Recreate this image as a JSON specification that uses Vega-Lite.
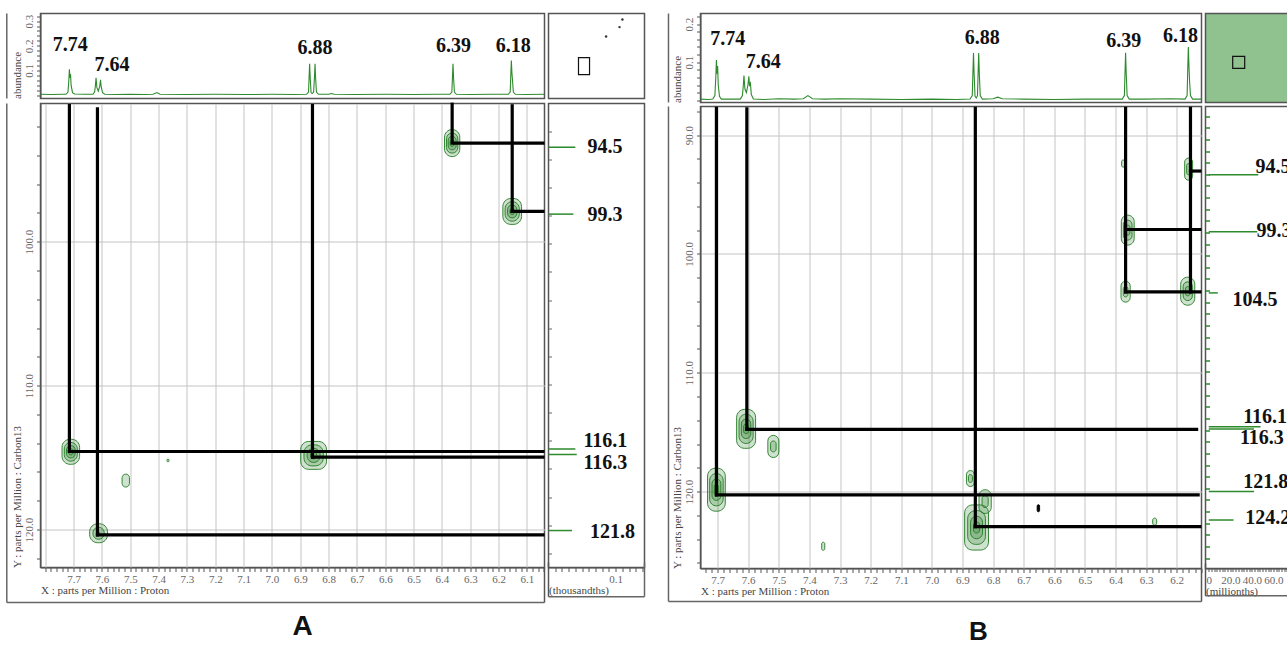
{
  "$schema": "https://vega.github.io/schema/vega-lite/v6.json",
  "background": "white",
  "autosize": {"type": "pad"},
  "padding": {"left": 4.5, "top": 11.5, "right": 0, "bottom": 0},
  "config": {
    "view": {"stroke": "#555555", "strokeWidth": 1.5},
    "axis": {"labelFont": "Liberation Serif", "labelFontSize": 11, "labelColor": "#666666", "titleFont": "Liberation Serif", "titleFontSize": 11, "titleFontWeight": "normal", "titleColor": "#444444", "tickColor": "#555555", "domainColor": "#555555", "gridColor": "#c4c4c4", "gridWidth": 1, "labelOverlap": false, "labelFlush": false, "tickCount": 1000}
  },
  "datasets": {
    "specA": [
      {"h":7.817,"a":0.003},{"h":7.78,"a":0.002},{"h":7.74,"a":0.003},
      {"h":7.727,"a":0.003},{"h":7.72,"a":0.012},{"h":7.717,"a":0.06},{"h":7.715,"a":0.105},{"h":7.713,"a":0.07},{"h":7.711,"a":0.085},{"h":7.709,"a":0.04},{"h":7.704,"a":0.01},{"h":7.697,"a":0.004},
      {"h":7.66,"a":0.003},
      {"h":7.632,"a":0.003},{"h":7.626,"a":0.012},{"h":7.623,"a":0.04},{"h":7.621,"a":0.07},{"h":7.618,"a":0.03},{"h":7.613,"a":0.016},{"h":7.608,"a":0.035},{"h":7.605,"a":0.062},{"h":7.603,"a":0.035},{"h":7.598,"a":0.01},{"h":7.59,"a":0.003},
      {"h":7.55,"a":0.002},{"h":7.5,"a":0.003},{"h":7.45,"a":0.002},
      {"h":7.42,"a":0.003},{"h":7.406,"a":0.01},{"h":7.395,"a":0.003},
      {"h":7.3,"a":0.002},{"h":7.2,"a":0.003},{"h":7.1,"a":0.002},{"h":7.0,"a":0.003},{"h":6.92,"a":0.002},
      {"h":6.878,"a":0.003},{"h":6.871,"a":0.012},{"h":6.869,"a":0.07},{"h":6.867,"a":0.127},{"h":6.865,"a":0.07},{"h":6.862,"a":0.01},{"h":6.858,"a":0.006},{"h":6.853,"a":0.012},{"h":6.85,"a":0.07},{"h":6.848,"a":0.127},{"h":6.846,"a":0.07},{"h":6.843,"a":0.012},{"h":6.836,"a":0.003},
      {"h":6.8,"a":0.003},{"h":6.79,"a":0.006},{"h":6.78,"a":0.003},
      {"h":6.7,"a":0.002},{"h":6.6,"a":0.003},{"h":6.5,"a":0.002},{"h":6.42,"a":0.003},
      {"h":6.372,"a":0.003},{"h":6.365,"a":0.012},{"h":6.363,"a":0.07},{"h":6.361,"a":0.127},{"h":6.359,"a":0.07},{"h":6.356,"a":0.012},{"h":6.349,"a":0.003},
      {"h":6.3,"a":0.002},{"h":6.22,"a":0.003},
      {"h":6.166,"a":0.003},{"h":6.159,"a":0.012},{"h":6.157,"a":0.08},{"h":6.155,"a":0.14},{"h":6.153,"a":0.09},{"h":6.151,"a":0.06},{"h":6.148,"a":0.012},{"h":6.141,"a":0.003},
      {"h":6.1,"a":0.002},{"h":6.038,"a":0.003}
    ],
    "peakA": [
      {"h":7.712,"a":0.205,"label":"7.74"},{"h":7.565,"a":0.124,"label":"7.64"},{"h":6.848,"a":0.192,"label":"6.88"},{"h":6.359,"a":0.198,"label":"6.39"},{"h":6.148,"a":0.198,"label":"6.18"}
    ],
    "specB": [
      {"h":7.756,"a":0.003},{"h":7.73,"a":0.002},
      {"h":7.716,"a":0.003},{"h":7.709,"a":0.012},{"h":7.706,"a":0.06},{"h":7.704,"a":0.106},{"h":7.702,"a":0.07},{"h":7.7,"a":0.09},{"h":7.698,"a":0.04},{"h":7.694,"a":0.01},{"h":7.688,"a":0.003},
      {"h":7.65,"a":0.003},
      {"h":7.626,"a":0.003},{"h":7.619,"a":0.012},{"h":7.616,"a":0.04},{"h":7.614,"a":0.065},{"h":7.611,"a":0.03},{"h":7.606,"a":0.02},{"h":7.601,"a":0.04},{"h":7.598,"a":0.063},{"h":7.596,"a":0.04},{"h":7.593,"a":0.045},{"h":7.59,"a":0.015},{"h":7.583,"a":0.003},
      {"h":7.55,"a":0.002},{"h":7.5,"a":0.004},{"h":7.45,"a":0.003},
      {"h":7.42,"a":0.004},{"h":7.405,"a":0.012},{"h":7.39,"a":0.004},
      {"h":7.35,"a":0.003},{"h":7.3,"a":0.004},{"h":7.2,"a":0.003},{"h":7.1,"a":0.002},{"h":7.0,"a":0.003},{"h":6.92,"a":0.002},
      {"h":6.875,"a":0.003},{"h":6.868,"a":0.012},{"h":6.866,"a":0.07},{"h":6.864,"a":0.124},{"h":6.862,"a":0.07},{"h":6.859,"a":0.01},{"h":6.855,"a":0.006},{"h":6.851,"a":0.012},{"h":6.849,"a":0.07},{"h":6.847,"a":0.124},{"h":6.845,"a":0.07},{"h":6.842,"a":0.012},{"h":6.835,"a":0.003},
      {"h":6.8,"a":0.004},{"h":6.785,"a":0.008},{"h":6.77,"a":0.004},
      {"h":6.7,"a":0.003},{"h":6.6,"a":0.002},{"h":6.5,"a":0.003},{"h":6.42,"a":0.003},
      {"h":6.378,"a":0.003},{"h":6.371,"a":0.012},{"h":6.369,"a":0.07},{"h":6.367,"a":0.125},{"h":6.365,"a":0.07},{"h":6.362,"a":0.012},{"h":6.355,"a":0.003},
      {"h":6.3,"a":0.003},{"h":6.22,"a":0.004},
      {"h":6.173,"a":0.003},{"h":6.166,"a":0.012},{"h":6.164,"a":0.08},{"h":6.162,"a":0.14},{"h":6.16,"a":0.09},{"h":6.158,"a":0.05},{"h":6.155,"a":0.012},{"h":6.148,"a":0.003},
      {"h":6.119,"a":0.003}
    ],
    "peakB": [
      {"h":7.667,"a":0.162,"label":"7.74"},{"h":7.551,"a":0.1,"label":"7.64"},{"h":6.835,"a":0.164,"label":"6.88"},{"h":6.373,"a":0.155,"label":"6.39"},{"h":6.188,"a":0.17,"label":"6.18"}
    ],
    "contA": [
      {"h1":6.337,"h2":6.391,"c1":92.21,"c2":94.09,"kind":"contour"},
      {"h1":6.344,"h2":6.384,"c1":92.45,"c2":93.85,"kind":"contour"},
      {"h1":6.35,"h2":6.378,"c1":92.68,"c2":93.62,"kind":"contour"},
      {"h1":6.357,"h2":6.371,"c1":92.92,"c2":93.38,"kind":"contour"},
      {"h1":6.119,"h2":6.185,"c1":97.0,"c2":98.8,"kind":"contour"},
      {"h1":6.127,"h2":6.177,"c1":97.22,"c2":98.58,"kind":"contour"},
      {"h1":6.1355,"h2":6.1685,"c1":97.45,"c2":98.35,"kind":"contour"},
      {"h1":6.144,"h2":6.16,"c1":97.68,"c2":98.12,"kind":"contour"},
      {"h1":7.679,"h2":7.741,"c1":113.73,"c2":115.47,"kind":"contour"},
      {"h1":7.687,"h2":7.733,"c1":113.95,"c2":115.25,"kind":"contour"},
      {"h1":7.6945,"h2":7.7255,"c1":114.17,"c2":115.03,"kind":"contour"},
      {"h1":7.702,"h2":7.718,"c1":114.38,"c2":114.82,"kind":"contour"},
      {"h1":6.8075,"h2":6.8985,"c1":113.88,"c2":115.82,"kind":"contour"},
      {"h1":6.819,"h2":6.887,"c1":114.12,"c2":115.58,"kind":"contour"},
      {"h1":6.83,"h2":6.876,"c1":114.36,"c2":115.34,"kind":"contour"},
      {"h1":6.842,"h2":6.864,"c1":114.61,"c2":115.09,"kind":"contour"},
      {"h1":7.5805,"h2":7.6435,"c1":119.6,"c2":120.92,"kind":"contour"},
      {"h1":7.592,"h2":7.632,"c1":119.84,"c2":120.68,"kind":"contour"},
      {"h1":7.607,"h2":7.617,"c1":120.16,"c2":120.36,"kind":"contour"},
      {"h1":7.503,"h2":7.529,"c1":116.15,"c2":117.05,"kind":"contour"},
      {"h1":7.3635,"h2":7.3705,"c1":115.1,"c2":115.3,"kind":"contour"}
    ],
    "contB": [
      {"h1":7.576,"h2":7.638,"c1":113.08,"c2":116.36,"kind":"contour"},
      {"h1":7.584,"h2":7.63,"c1":113.49,"c2":115.95,"kind":"contour"},
      {"h1":7.5915,"h2":7.6225,"c1":113.9,"c2":115.54,"kind":"contour"},
      {"h1":7.599,"h2":7.615,"c1":114.31,"c2":115.13,"kind":"contour"},
      {"h1":7.5,"h2":7.536,"c1":115.27,"c2":117.13,"kind":"contour"},
      {"h1":7.509,"h2":7.527,"c1":115.74,"c2":116.66,"kind":"contour"},
      {"h1":7.675,"h2":7.733,"c1":118.03,"c2":121.65,"kind":"contour"},
      {"h1":7.682,"h2":7.726,"c1":118.48,"c2":121.2,"kind":"contour"},
      {"h1":7.6895,"h2":7.7185,"c1":118.94,"c2":120.74,"kind":"contour"},
      {"h1":7.697,"h2":7.711,"c1":119.39,"c2":120.29,"kind":"contour"},
      {"h1":6.815,"h2":6.893,"c1":121.12,"c2":124.92,"kind":"contour"},
      {"h1":6.825,"h2":6.883,"c1":121.6,"c2":124.44,"kind":"contour"},
      {"h1":6.8345,"h2":6.8735,"c1":122.07,"c2":123.97,"kind":"contour"},
      {"h1":6.844,"h2":6.864,"c1":122.55,"c2":123.49,"kind":"contour"},
      {"h1":6.861,"h2":6.887,"c1":118.23,"c2":119.57,"kind":"contour"},
      {"h1":6.8675,"h2":6.8805,"c1":118.57,"c2":119.23,"kind":"contour"},
      {"h1":6.806,"h2":6.846,"c1":119.84,"c2":121.84,"kind":"contour"},
      {"h1":6.816,"h2":6.836,"c1":120.34,"c2":121.34,"kind":"contour"},
      {"h1":7.35,"h2":7.36,"c1":124.26,"c2":124.94,"kind":"contour"},
      {"h1":6.2655,"h2":6.2785,"c1":122.23,"c2":122.83,"kind":"contour"},
      {"h1":6.148,"h2":6.174,"c1":91.94,"c2":93.8,"kind":"contour"},
      {"h1":6.1545,"h2":6.1675,"c1":92.4,"c2":93.34,"kind":"contour"},
      {"h1":6.339,"h2":6.381,"c1":96.74,"c2":99.26,"kind":"contour"},
      {"h1":6.346,"h2":6.374,"c1":97.16,"c2":98.84,"kind":"contour"},
      {"h1":6.353,"h2":6.367,"c1":97.58,"c2":98.42,"kind":"contour"},
      {"h1":6.352,"h2":6.382,"c1":102.3,"c2":104.06,"kind":"contour"},
      {"h1":6.3595,"h2":6.3745,"c1":102.74,"c2":103.62,"kind":"contour"},
      {"h1":6.141,"h2":6.187,"c1":101.96,"c2":104.32,"kind":"contour"},
      {"h1":6.149,"h2":6.179,"c1":102.35,"c2":103.93,"kind":"contour"},
      {"h1":6.1565,"h2":6.1715,"c1":102.75,"c2":103.53,"kind":"contour"},
      {"h1":6.37,"h2":6.38,"c1":92.1,"c2":92.7,"kind":"contour"},
      {"h1":6.648,"h2":6.656,"c1":121.1,"c2":121.7,"kind":"artifact"}
    ],
    "linesA": [
      {"h1":7.715,"h2":7.715,"c1":90.55,"c2":114.58},
      {"h1":7.616,"h2":7.616,"c1":90.77,"c2":120.37},
      {"h1":6.857,"h2":6.857,"c1":90.55,"c2":114.97},
      {"h1":6.364,"h2":6.364,"c1":90.45,"c2":93.15},
      {"h1":6.152,"h2":6.152,"c1":90.56,"c2":97.9},
      {"h1":6.356,"h2":6.0436,"c1":93.15,"c2":93.15},
      {"h1":6.152,"h2":6.0436,"c1":97.9,"c2":97.9},
      {"h1":7.715,"h2":6.0436,"c1":114.58,"c2":114.58},
      {"h1":6.857,"h2":6.0436,"c1":114.97,"c2":114.97},
      {"h1":7.616,"h2":6.0436,"c1":120.37,"c2":120.37}
    ],
    "linesB": [
      {"h1":7.704,"h2":7.704,"c1":87.76,"c2":120.28},
      {"h1":7.6046,"h2":7.6046,"c1":87.8,"c2":114.77},
      {"h1":6.858,"h2":6.858,"c1":87.76,"c2":122.95},
      {"h1":6.367,"h2":6.367,"c1":87.76,"c2":103.2},
      {"h1":6.155,"h2":6.155,"c1":87.76,"c2":103.2},
      {"h1":6.155,"h2":6.1245,"c1":93.03,"c2":93.03},
      {"h1":6.362,"h2":6.1245,"c1":97.95,"c2":97.95},
      {"h1":6.367,"h2":6.1245,"c1":103.2,"c2":103.2},
      {"h1":7.6046,"h2":6.135,"c1":114.77,"c2":114.77},
      {"h1":7.704,"h2":6.13,"c1":120.28,"c2":120.28},
      {"h1":6.858,"h2":6.1245,"c1":122.95,"c2":122.95}
    ],
    "sideA": [
      {"label":"94.5","c":93.15,"len":0.04,"lc":93.15,"lx":0.058},
      {"label":"99.3","c":97.9,"len":0.037,"lc":97.96,"lx":0.058},
      {"label":"116.1","c":114.58,"len":0.04,"lc":114.0,"lx":0.052},
      {"label":"116.3","c":114.97,"len":0.042,"lc":115.6,"lx":0.052},
      {"label":"121.8","c":120.37,"len":0.035,"lc":120.44,"lx":0.062}
    ],
    "sideB": [
      {"label":"94.5","c":93.03,"len":46,"lc":92.4,"lx":43.4},
      {"label":"99.3","c":97.95,"len":45,"lc":97.9,"lx":44.3},
      {"label":"104.5","c":103.2,"len":8.4,"lc":103.8,"lx":22},
      {"label":"116.1","c":114.7,"len":48,"lc":113.9,"lx":32},
      {"label":"116.3","c":114.9,"len":42,"lc":115.7,"lx":28.9},
      {"label":"121.8","c":120.28,"len":42,"lc":119.5,"lx":32},
      {"label":"124.2","c":122.73,"len":23,"lc":122.6,"lx":33.9}
    ],
    "cornerA": [
      {"x":0.77,"y":0.93,"kind":"dot"},{"x":0.74,"y":0.84,"kind":"dot"},{"x":0.6,"y":0.73,"kind":"dot"},{"x":0.37,"y":0.38,"kind":"box"}
    ],
    "cornerB": [
      {"x":0.4,"y":0.45,"kind":"box"}
    ]
  },
  "spacing": 20,
  "hconcat": [
    {
      "title": {"text": "A", "orient": "bottom", "anchor": "middle", "offset": 9.5, "dx": -23, "font": "Liberation Sans", "fontSize": 28, "fontWeight": "bold", "color": "#111111"},
      "spacing": 0,
      "vconcat": [
        {
          "spacing": 0,
          "hconcat": [
            {
              "width": 504, "height": 85,
              "layer": [
                {
                  "data": {"name": "specA"},
                  "mark": {"type": "line", "color": "#2d8a2d", "strokeWidth": 1.1},
                  "encoding": {
                    "x": {"field": "h", "type": "quantitative", "scale": {"domain": [6.038, 7.817], "reverse": true, "nice": false, "zero": false}, "axis": null},
                    "y": {"field": "a", "type": "quantitative", "scale": {"domain": [-0.014, 0.331], "nice": false, "zero": false},
                      "axis": {"values": [0,0.02,0.04,0.06,0.08,0.1,0.12,0.14,0.16,0.18,0.2,0.22,0.24,0.26,0.28,0.3,0.32],
                        "labelExpr": "abs(datum.value*10 - round(datum.value*10)) < 0.01 && datum.value > 0.05 ? format(datum.value, '.1f') : ''",
                        "labelAngle": -90, "labelPadding": 2, "grid": false, "tickSize": 4, "minExtent": 17, "maxExtent": 17,
                        "title": "abundance", "titleAnchor": "start", "titleAlign": "left", "titlePadding": 1.5}}
                  }
                },
                {
                  "data": {"name": "peakA"},
                  "mark": {"type": "text", "font": "Liberation Serif", "fontSize": 20, "fontWeight": "bold", "color": "#111111", "align": "center", "baseline": "middle"},
                  "encoding": {
                    "x": {"field": "h", "type": "quantitative", "scale": {"domain": [6.038, 7.817], "reverse": true, "nice": false, "zero": false}},
                    "y": {"field": "a", "type": "quantitative", "scale": {"domain": [-0.014, 0.331], "nice": false, "zero": false}},
                    "text": {"field": "label", "type": "nominal"}
                  }
                },
                {
                  "data": {"values": [{}]},
                  "mark": {"type": "rule", "color": "#666666", "strokeWidth": 1.5},
                  "encoding": {
                    "x": {"datum": 7.936, "type": "quantitative"},
                    "y": {"datum": -0.014, "type": "quantitative"},
                    "y2": {"datum": 0.331}
                  }
                }
              ]
            },
            {
              "width": 96, "height": 85,
              "data": {"name": "cornerA"},
              "layer": [
                {
                  "transform": [{"filter": "datum.kind == 'dot'"}],
                  "mark": {"type": "point", "filled": true, "color": "#333333", "size": 6, "opacity": 1},
                  "encoding": {
                    "x": {"field": "x", "type": "quantitative", "scale": {"domain": [0, 1]}, "axis": null},
                    "y": {"field": "y", "type": "quantitative", "scale": {"domain": [0, 1]}, "axis": null}
                  }
                },
                {
                  "transform": [{"filter": "datum.kind == 'box'"}],
                  "mark": {"type": "point", "filled": false, "shape": "M-0.65,-1H0.65V1H-0.65Z", "color": "#111111", "size": 289, "strokeWidth": 1.2, "opacity": 1},
                  "encoding": {
                    "x": {"field": "x", "type": "quantitative", "scale": {"domain": [0, 1]}, "axis": null},
                    "y": {"field": "y", "type": "quantitative", "scale": {"domain": [0, 1]}, "axis": null}
                  }
                }
              ]
            }
          ]
        },
        {
          "spacing": 0,
          "hconcat": [
            {
              "width": 504, "height": 464,
              "layer": [
                {
                  "data": {"name": "contA"},
                  "mark": {"type": "rect", "cornerRadius": 8, "strokeWidth": 0.9},
                  "encoding": {
                    "x": {"field": "h1", "type": "quantitative", "scale": {"domain": [6.038, 7.817], "reverse": true, "nice": false, "zero": false},
                      "axis": {"values": [6.04,6.06,6.08,6.1,6.12,6.14,6.16,6.18,6.2,6.22,6.24,6.26,6.28,6.3,6.32,6.34,6.36,6.38,6.4,6.42,6.44,6.46,6.48,6.5,6.52,6.54,6.56,6.58,6.6,6.62,6.64,6.66,6.68,6.7,6.72,6.74,6.76,6.78,6.8,6.82,6.84,6.86,6.88,6.9,6.92,6.94,6.96,6.98,7,7.02,7.04,7.06,7.08,7.1,7.12,7.14,7.16,7.18,7.2,7.22,7.24,7.26,7.28,7.3,7.32,7.34,7.36,7.38,7.4,7.42,7.44,7.46,7.48,7.5,7.52,7.54,7.56,7.58,7.6,7.62,7.64,7.66,7.68,7.7,7.72,7.74,7.76,7.78,7.8],
                        "labelExpr": "abs(datum.value*10 - round(datum.value*10)) < 0.01 && datum.value < 7.75 ? format(datum.value, '.1f') : ''",
                        "grid": true,
                        "gridOpacity": {"condition": {"test": "abs(datum.value*10 - round(datum.value*10)) < 0.01", "value": 1}, "value": 0},
                        "tickSize": 4,
                        "labelPadding": 2,
                        "title": "X : parts per Million : Proton", "titleAnchor": "end", "titleAlign": "left", "titlePadding": 0}},
                    "x2": {"field": "h2"},
                    "y": {"field": "c1", "type": "quantitative", "scale": {"domain": [90.4, 122.64], "reverse": true, "nice": false, "zero": false},
                      "axis": {"values": [92,94,96,98,100,102,104,106,108,110,112,114,116,118,120,122],
                        "labelExpr": "datum.value % 10 == 0 ? format(datum.value, '.1f') : ''",
                        "labelAngle": -90, "labelPadding": 2, "grid": true, "minExtent": 17, "maxExtent": 17,
                        "gridOpacity": {"condition": {"test": "datum.value % 10 == 0", "value": 1}, "value": 0},
                        "tickSize": 4,
                        "title": "Y : parts per Million : Carbon13", "titleAnchor": "end", "titleAlign": "left", "titlePadding": 1.5}},
                    "y2": {"field": "c2"},
                    "color": {"field": "kind", "type": "nominal", "scale": {"domain": ["contour", "artifact"], "range": ["#237a23", "#000000"]}, "legend": null},
                    "stroke": {"field": "kind", "type": "nominal", "scale": {"domain": ["contour", "artifact"], "range": ["#237a23", "#000000"]}, "legend": null},
                    "fillOpacity": {"field": "kind", "type": "nominal", "scale": {"domain": ["contour", "artifact"], "range": [0.22, 1]}, "legend": null}
                  }
                },
                {
                  "data": {"name": "linesA"},
                  "mark": {"type": "rule", "color": "#000000", "strokeWidth": 3.2, "strokeCap": "square"},
                  "encoding": {
                    "x": {"field": "h1", "type": "quantitative", "scale": {"domain": [6.038, 7.817], "reverse": true, "nice": false, "zero": false}},
                    "x2": {"field": "h2"},
                    "y": {"field": "c1", "type": "quantitative", "scale": {"domain": [90.4, 122.64], "reverse": true, "nice": false, "zero": false}},
                    "y2": {"field": "c2"}
                  }
                },
                {
                  "data": {"values": [{}]},
                  "mark": {"type": "rule", "color": "#666666", "strokeWidth": 1.5},
                  "encoding": {
                    "x": {"datum": 7.936, "type": "quantitative"},
                    "y": {"datum": 90.4, "type": "quantitative"},
                    "y2": {"datum": 125.07}
                  }
                },
                {
                  "data": {"values": [{}]},
                  "mark": {"type": "rule", "color": "#666666", "strokeWidth": 1.5},
                  "encoding": {
                    "x": {"datum": 7.936, "type": "quantitative"},
                    "x2": {"datum": 6.038},
                    "y": {"datum": 125.07, "type": "quantitative"}
                  }
                },
                {
                  "data": {"values": [{}]},
                  "mark": {"type": "rule", "color": "#555555", "strokeWidth": 1.5},
                  "encoding": {
                    "x": {"datum": 6.038, "type": "quantitative"},
                    "y": {"datum": 122.64, "type": "quantitative"},
                    "y2": {"datum": 125.07}
                  }
                }
              ]
            },
            {
              "width": 96, "height": 464,
              "layer": [
                {
                  "data": {"name": "sideA"},
                  "mark": {"type": "bar", "orient": "horizontal", "color": "#2d8a2d", "size": 1.5},
                  "encoding": {
                    "x": {"field": "len", "type": "quantitative", "scale": {"domain": [0, 0.143], "nice": false, "zero": true},
                      "axis": {"values": [0.01,0.02,0.03,0.04,0.05,0.06,0.07,0.08,0.09,0.1,0.11,0.12,0.13,0.14],
                        "labelExpr": "abs(datum.value - 0.1) < 0.001 ? '0.1' : ''", "grid": false,
                        "tickSize": 4,
                        "labelPadding": 2,
                        "title": "(thousandths)", "titleAnchor": "start", "titleAlign": "left", "titlePadding": 0}},
                    "y": {"field": "c", "type": "quantitative", "scale": {"domain": [90.4, 122.64], "reverse": true, "nice": false, "zero": false},
                      "axis": {"values": [92,94,96,98,100,102,104,106,108,110,112,114,116,118,120,122], "labels": false, "domain": false, "grid": false, "tickSize": 3, "offset": -3, "minExtent": 0, "maxExtent": 0, "tickColor": "#666666", "title": null}}
                  }
                },
                {
                  "data": {"name": "sideA"},
                  "mark": {"type": "text", "font": "Liberation Serif", "fontSize": 20, "fontWeight": "bold", "color": "#111111", "align": "left", "baseline": "middle"},
                  "encoding": {
                    "x": {"field": "lx", "type": "quantitative", "scale": {"domain": [0, 0.143], "nice": false, "zero": true}},
                    "y": {"field": "lc", "type": "quantitative", "scale": {"domain": [90.4, 122.64], "reverse": true, "nice": false, "zero": false}},
                    "text": {"field": "label", "type": "nominal"}
                  }
                },
                {
                  "data": {"values": [{}]},
                  "mark": {"type": "rule", "color": "#666666", "strokeWidth": 1.5},
                  "encoding": {
                    "x": {"datum": 0, "type": "quantitative"},
                    "x2": {"datum": 0.143},
                    "y": {"datum": 125.07, "type": "quantitative"}
                  }
                },
                {
                  "data": {"values": [{}]},
                  "mark": {"type": "rule", "color": "#666666", "strokeWidth": 1.5},
                  "encoding": {
                    "x": {"datum": 0.143, "type": "quantitative"},
                    "y": {"datum": 122.64, "type": "quantitative"},
                    "y2": {"datum": 125.07}
                  }
                },
                {
                  "data": {"values": [{}]},
                  "mark": {"type": "rule", "color": "#555555", "strokeWidth": 1.5},
                  "encoding": {
                    "x": {"datum": 0, "type": "quantitative"},
                    "y": {"datum": 122.64, "type": "quantitative"},
                    "y2": {"datum": 125.07}
                  }
                }
              ]
            }
          ]
        }
      ]
    },
    {
      "title": {"text": "B", "orient": "bottom", "anchor": "middle", "offset": 15.5, "dx": 0, "font": "Liberation Sans", "fontSize": 26, "fontWeight": "bold", "color": "#111111"},
      "spacing": 0,
      "vconcat": [
        {
          "spacing": 0,
          "hconcat": [
            {
              "width": 501, "height": 89,
              "layer": [
                {
                  "data": {"name": "specB"},
                  "mark": {"type": "line", "color": "#2d8a2d", "strokeWidth": 1.1},
                  "encoding": {
                    "x": {"field": "h", "type": "quantitative", "scale": {"domain": [6.119, 7.756], "reverse": true, "nice": false, "zero": false}, "axis": null},
                    "y": {"field": "a", "type": "quantitative", "scale": {"domain": [-0.006, 0.228], "nice": false, "zero": false},
                      "axis": {"values": [0,0.02,0.04,0.06,0.08,0.1,0.12,0.14,0.16,0.18,0.2,0.22],
                        "labelExpr": "abs(datum.value*10 - round(datum.value*10)) < 0.01 && datum.value > 0.05 ? format(datum.value, '.1f') : ''",
                        "labelAngle": -90, "labelPadding": 2, "grid": false, "tickSize": 4, "minExtent": 17, "maxExtent": 17,
                        "title": "abundance", "titleAnchor": "start", "titleAlign": "left", "titlePadding": 1.5}}
                  }
                },
                {
                  "data": {"name": "peakB"},
                  "mark": {"type": "text", "font": "Liberation Serif", "fontSize": 20, "fontWeight": "bold", "color": "#111111", "align": "center", "baseline": "middle"},
                  "encoding": {
                    "x": {"field": "h", "type": "quantitative", "scale": {"domain": [6.119, 7.756], "reverse": true, "nice": false, "zero": false}},
                    "y": {"field": "a", "type": "quantitative", "scale": {"domain": [-0.006, 0.228], "nice": false, "zero": false}},
                    "text": {"field": "label", "type": "nominal"}
                  }
                },
                {
                  "data": {"values": [{}]},
                  "mark": {"type": "rule", "color": "#666666", "strokeWidth": 1.5},
                  "encoding": {
                    "x": {"datum": 7.8606, "type": "quantitative"},
                    "y": {"datum": -0.006, "type": "quantitative"},
                    "y2": {"datum": 0.228}
                  }
                }
              ]
            },
            {
              "width": 83, "height": 89,
              "view": {"fill": "#8fc28f", "stroke": "#555555", "strokeWidth": 1.5},
              "data": {"name": "cornerB"},
              "mark": {"type": "point", "filled": false, "shape": "square", "color": "#111111", "size": 144, "strokeWidth": 1.2, "opacity": 1},
              "encoding": {
                "x": {"field": "x", "type": "quantitative", "scale": {"domain": [0, 1]}, "axis": null},
                "y": {"field": "y", "type": "quantitative", "scale": {"domain": [0, 1]}, "axis": null}
              }
            }
          ]
        },
        {
          "spacing": 0,
          "hconcat": [
            {
              "width": 501, "height": 462,
              "layer": [
                {
                  "data": {"name": "contB"},
                  "mark": {"type": "rect", "cornerRadius": 8, "strokeWidth": 0.9},
                  "encoding": {
                    "x": {"field": "h1", "type": "quantitative", "scale": {"domain": [6.119, 7.756], "reverse": true, "nice": false, "zero": false},
                      "axis": {"values": [6.12,6.14,6.16,6.18,6.2,6.22,6.24,6.26,6.28,6.3,6.32,6.34,6.36,6.38,6.4,6.42,6.44,6.46,6.48,6.5,6.52,6.54,6.56,6.58,6.6,6.62,6.64,6.66,6.68,6.7,6.72,6.74,6.76,6.78,6.8,6.82,6.84,6.86,6.88,6.9,6.92,6.94,6.96,6.98,7,7.02,7.04,7.06,7.08,7.1,7.12,7.14,7.16,7.18,7.2,7.22,7.24,7.26,7.28,7.3,7.32,7.34,7.36,7.38,7.4,7.42,7.44,7.46,7.48,7.5,7.52,7.54,7.56,7.58,7.6,7.62,7.64,7.66,7.68,7.7,7.72,7.74],
                        "labelExpr": "abs(datum.value*10 - round(datum.value*10)) < 0.01 && datum.value < 7.75 ? format(datum.value, '.1f') : ''",
                        "grid": true,
                        "gridOpacity": {"condition": {"test": "abs(datum.value*10 - round(datum.value*10)) < 0.01", "value": 1}, "value": 0},
                        "tickSize": 4,
                        "labelPadding": 2,
                        "title": "X : parts per Million : Proton", "titleAnchor": "end", "titleAlign": "left", "titlePadding": 0}},
                    "x2": {"field": "h2"},
                    "y": {"field": "c1", "type": "quantitative", "scale": {"domain": [87.6, 126.47], "reverse": true, "nice": false, "zero": false},
                      "axis": {"values": [88,90,92,94,96,98,100,102,104,106,108,110,112,114,116,118,120,122,124,126],
                        "labelExpr": "datum.value % 10 == 0 ? format(datum.value, '.1f') : ''",
                        "labelAngle": -90, "labelPadding": 2, "grid": true, "minExtent": 17, "maxExtent": 17,
                        "gridOpacity": {"condition": {"test": "datum.value % 10 == 0", "value": 1}, "value": 0},
                        "tickSize": 4,
                        "title": "Y : parts per Million : Carbon13", "titleAnchor": "end", "titleAlign": "left", "titlePadding": 1.5}},
                    "y2": {"field": "c2"},
                    "color": {"field": "kind", "type": "nominal", "scale": {"domain": ["contour", "artifact"], "range": ["#237a23", "#000000"]}, "legend": null},
                    "stroke": {"field": "kind", "type": "nominal", "scale": {"domain": ["contour", "artifact"], "range": ["#237a23", "#000000"]}, "legend": null},
                    "fillOpacity": {"field": "kind", "type": "nominal", "scale": {"domain": ["contour", "artifact"], "range": [0.3, 1]}, "legend": null}
                  }
                },
                {
                  "data": {"name": "linesB"},
                  "mark": {"type": "rule", "color": "#000000", "strokeWidth": 3.2, "strokeCap": "square"},
                  "encoding": {
                    "x": {"field": "h1", "type": "quantitative", "scale": {"domain": [6.119, 7.756], "reverse": true, "nice": false, "zero": false}},
                    "x2": {"field": "h2"},
                    "y": {"field": "c1", "type": "quantitative", "scale": {"domain": [87.6, 126.47], "reverse": true, "nice": false, "zero": false}},
                    "y2": {"field": "c2"}
                  }
                },
                {
                  "data": {"values": [{}]},
                  "mark": {"type": "rule", "color": "#666666", "strokeWidth": 1.5},
                  "encoding": {
                    "x": {"datum": 7.8606, "type": "quantitative"},
                    "y": {"datum": 87.6, "type": "quantitative"},
                    "y2": {"datum": 129.25}
                  }
                },
                {
                  "data": {"values": [{}]},
                  "mark": {"type": "rule", "color": "#666666", "strokeWidth": 1.5},
                  "encoding": {
                    "x": {"datum": 7.8606, "type": "quantitative"},
                    "x2": {"datum": 6.119},
                    "y": {"datum": 129.25, "type": "quantitative"}
                  }
                },
                {
                  "data": {"values": [{}]},
                  "mark": {"type": "rule", "color": "#555555", "strokeWidth": 1.5},
                  "encoding": {
                    "x": {"datum": 6.119, "type": "quantitative"},
                    "y": {"datum": 126.47, "type": "quantitative"},
                    "y2": {"datum": 129.25}
                  }
                }
              ]
            },
            {
              "width": 83, "height": 462,
              "layer": [
                {
                  "data": {"name": "sideB"},
                  "mark": {"type": "bar", "orient": "horizontal", "color": "#2d8a2d", "size": 1.5},
                  "encoding": {
                    "x": {"field": "len", "type": "quantitative", "scale": {"domain": [-3, 74], "nice": false, "zero": false},
                      "axis": {"values": [0,2.5,5,7.5,10,12.5,15,17.5,20,22.5,25,27.5,30,32.5,35,37.5,40,42.5,45,47.5,50,52.5,55,57.5,60,62.5,65,67.5,70,72.5],
                        "labelExpr": "datum.value % 20 == 0 ? (datum.value == 0 ? '0' : format(datum.value, '.1f')) : ''", "grid": false,
                        "tickSize": 3,
                        "labelPadding": 3,
                        "title": "(millionths)", "titleAnchor": "start", "titleAlign": "left", "titlePadding": 0}},
                    "y": {"field": "c", "type": "quantitative", "scale": {"domain": [87.6, 126.47], "reverse": true, "nice": false, "zero": false},
                      "axis": {"values": [88,89,90,91,92,93,94,95,96,97,98,99,100,101,102,103,104,105,106,107,108,109,110,111,112,113,114,115,116,117,118,119,120,121,122,123,124,125,126], "labels": false, "domain": false, "grid": false, "tickSize": 4, "offset": -4, "minExtent": 0, "maxExtent": 0, "tickColor": "#2d8a2d", "tickWidth": 1.5, "title": null}}
                  }
                },
                {
                  "data": {"name": "sideB"},
                  "mark": {"type": "text", "font": "Liberation Serif", "fontSize": 20, "fontWeight": "bold", "color": "#111111", "align": "left", "baseline": "middle", "clip": true},
                  "encoding": {
                    "x": {"field": "lx", "type": "quantitative", "scale": {"domain": [-3, 74], "nice": false, "zero": false}},
                    "y": {"field": "lc", "type": "quantitative", "scale": {"domain": [87.6, 126.47], "reverse": true, "nice": false, "zero": false}},
                    "text": {"field": "label", "type": "nominal"}
                  }
                },
                {
                  "data": {"values": [{}]},
                  "mark": {"type": "rule", "color": "#666666", "strokeWidth": 1.5},
                  "encoding": {
                    "x": {"datum": -3, "type": "quantitative"},
                    "x2": {"datum": 74},
                    "y": {"datum": 129.25, "type": "quantitative"}
                  }
                },
                {
                  "data": {"values": [{}]},
                  "mark": {"type": "rule", "color": "#555555", "strokeWidth": 1.5},
                  "encoding": {
                    "x": {"datum": -3, "type": "quantitative"},
                    "y": {"datum": 126.47, "type": "quantitative"},
                    "y2": {"datum": 129.25}
                  }
                }
              ]
            }
          ]
        }
      ]
    }
  ]
}
